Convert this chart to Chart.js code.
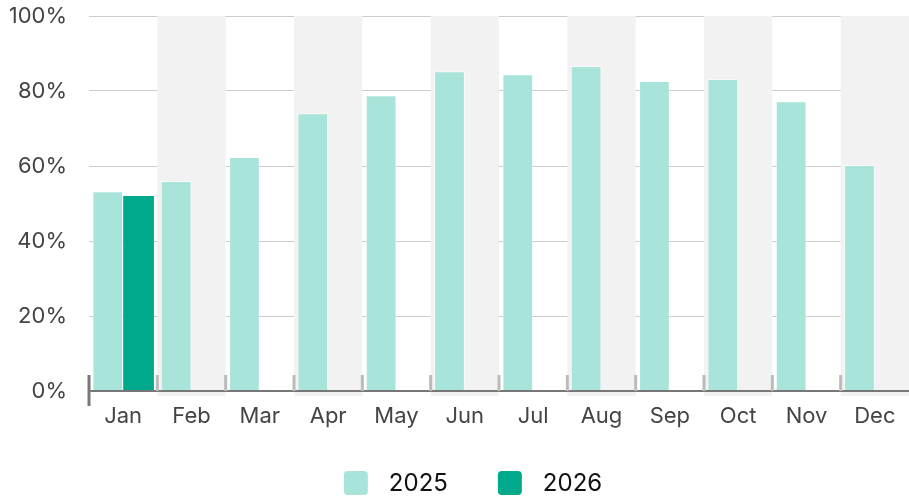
<!DOCTYPE html>
<html>
<head>
<meta charset="utf-8">
<script src="https://cdn.jsdelivr.net/npm/chart.js@4.4.1/dist/chart.umd.min.js"></script>
<style>
  body { margin: 0; background: #fff; }
  #wrap { width: 909px; height: 500px; }
</style>
</head>
<body>
<div id="wrap"><canvas id="chart"></canvas></div>
<script>
const months = ['Jan', 'Feb', 'Mar', 'Apr', 'May', 'Jun', 'Jul', 'Aug', 'Sep', 'Oct', 'Nov', 'Dec'];
const values2025 = [53.3, 56.0, 62.4, 74.1, 78.9, 85.3, 84.5, 86.7, 82.7, 83.2, 77.3, 60.3];
const values2026 = [52.0, null, null, null, null, null, null, null, null, null, null, null];
const yTicks = [0, 20, 40, 60, 80, 100];

// shaded bands on every other month + small boundary ticks
const bandsPlugin = {
    id: 'bands',
    beforeDatasetsDraw(chart) {
        const ctx = chart.ctx;
        const x = chart.scales.x;
        const area = chart.chartArea;
        const w = x.width / months.length;
        ctx.save();
        ctx.fillStyle = '#f2f2f2';
        months.forEach((m, i) => {
            if (i % 2 === 1) {
                const cx = x.getPixelForValue(i);
                ctx.fillRect(cx - w / 2, area.top, w, area.bottom - area.top + 5);
            }
        });
        ctx.restore();
    },
    afterDatasetsDraw(chart) {
        const ctx = chart.ctx;
        const x = chart.scales.x;
        const area = chart.chartArea;
        const w = x.width / months.length;
        ctx.save();
        // axis line
        ctx.strokeStyle = '#777';
        ctx.lineWidth = 2;
        ctx.beginPath();
        ctx.moveTo(area.left, area.bottom);
        ctx.lineTo(area.right, area.bottom);
        ctx.stroke();
        // boundary ticks
        ctx.strokeStyle = '#bbbbbb';
        ctx.lineWidth = 3;
        for (let i = 1; i < months.length; i++) {
            const bx = x.getPixelForValue(i) - w / 2;
            ctx.beginPath();
            ctx.moveTo(bx, area.bottom - 16);
            ctx.lineTo(bx, area.bottom);
            ctx.stroke();
        }
        // left tick
        ctx.strokeStyle = '#777';
        ctx.beginPath();
        ctx.moveTo(area.left, area.bottom - 16);
        ctx.lineTo(area.left, area.bottom + 15);
        ctx.stroke();
        ctx.restore();
    }
};

// legend drawn by hand so the spacing matches
const legendPlugin = {
    id: 'myLegend',
    afterDraw(chart) {
        const ctx = chart.ctx;
        const box = 24, gapText = 21, gapItem = 50;
        ctx.save();
        ctx.font = '24px Inter';
        ctx.textBaseline = 'middle';
        const items = chart.data.datasets.map(ds => ({
            text: ds.label,
            color: ds.backgroundColor,
            w: box + gapText + ctx.measureText(ds.label).width
        }));
        const total = items.reduce((s, it) => s + it.w, 0) + gapItem * (items.length - 1);
        let x = chart.width / 2 + 18.5 - total / 2;
        const cy = 483;
        items.forEach(it => {
            ctx.fillStyle = it.color;
            ctx.beginPath();
            ctx.roundRect(x, cy - box / 2, box, box, 4);
            ctx.fill();
            ctx.fillStyle = '#111';
            ctx.fillText(it.text, x + box + gapText, cy + 1);
            x += it.w + gapItem;
        });
        ctx.restore();
    }
};

new Chart(document.getElementById('chart'), {
    type: 'bar',
    data: {
        labels: months,
        datasets: [
            {
                label: '2025',
                data: values2025,
                backgroundColor: '#a8e4d9',
                borderColor: 'rgba(255,255,255,0.6)',
                borderWidth: 1
            },
            {
                label: '2026',
                data: values2026,
                backgroundColor: '#00a98b',
                borderWidth: 0
            }
        ]
    },
    options: {
        responsive: true,
        maintainAspectRatio: false,
        animation: false,
        layout: { padding: { left: 10, right: 0, top: 16, bottom: 69 } },
        categoryPercentage: 0.9,
        barPercentage: 1.0,
        plugins: {
            tooltip: { enabled: false },
            legend: { display: false }
        },
        scales: {
            x: {
                grid: { display: false, drawTicks: false },
                border: { display: false },
                afterFit(axis) { axis.height = 40; },
                ticks: {
                    padding: 12,
                    color: '#444',
                    font: { family: 'Inter', size: 22 }
                }
            },
            y: {
                min: 0,
                max: 100,
                afterBuildTicks(axis) {
                    axis.ticks = yTicks.map(v => ({ value: v }));
                },
                afterFit(axis) {
                    axis.width = 79;
                    axis.paddingTop = 0;
                    axis.paddingBottom = 0;
                },
                grid: { color: '#cccccc', lineWidth: 1, drawTicks: false },
                border: { display: false },
                ticks: {
                    padding: 22,
                    color: '#444',
                    font: { family: 'Inter', size: 22 },
                    callback: v => v + '%'
                }
            }
        }
    },
    plugins: [bandsPlugin, legendPlugin]
});
</script>
</body>
</html>
